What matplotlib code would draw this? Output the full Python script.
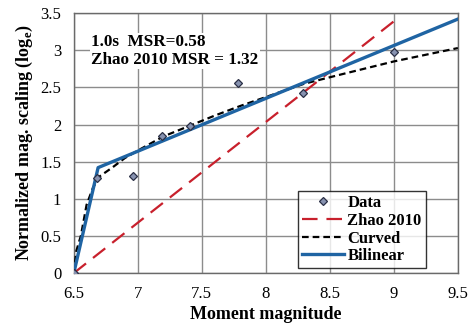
import numpy as np
import matplotlib.pyplot as plt

plt.rcParams['font.family'] = ['Liberation Serif', 'DejaVu Serif']
plt.rcParams['mathtext.fontset'] = 'custom'
plt.rcParams['mathtext.bf'] = 'Liberation Serif:bold'
plt.rcParams['mathtext.rm'] = 'Liberation Serif'

# observed scaling points
data_mw = [6.5, 6.68, 6.96, 7.19, 7.41, 7.78, 8.29, 9.0]
data_val = [0.0, 1.28, 1.31, 1.84, 1.98, 2.56, 2.42, 2.98]

# Zhao 2010 model
zhao_mw = [6.5, 9.0]
zhao_val = [0.0, 3.39]

# curved fit
curved_mw = [6.5, 6.52, 6.555, 6.6, 6.65, 6.7, 6.8, 6.9, 7.0, 7.2, 7.4, 7.6,
             7.8, 8.0, 8.3, 8.6, 9.0, 9.5]
curved_val = [0.0, 0.3, 0.5, 0.92, 1.15, 1.3, 1.42, 1.55, 1.65, 1.84, 1.98,
              2.12, 2.25, 2.37, 2.55, 2.68, 2.85, 3.03]

# bilinear fit
bilin_mw = [6.5, 6.69, 9.5]
bilin_val = [0.0, 1.42, 3.42]

fig = plt.figure(figsize=(4.73, 3.29), dpi=100)
ax = fig.add_axes([0.156, 0.170, 0.812, 0.790])

ax.plot(zhao_mw, zhao_val, color='#c8202c', lw=1.6, dashes=(7, 4), label='Zhao 2010', zorder=3)
ax.plot(curved_mw, curved_val, color='black', lw=1.6, dashes=(3, 1.8), label='Curved', zorder=4)
ax.plot(bilin_mw, bilin_val, color='#1f64a3', lw=2.4, label='Bilinear', zorder=4)
ax.plot(data_mw, data_val, ls='none', marker='D', ms=4.5, mfc='#8792b0',
        mec='#2a2f45', mew=0.9, label='Data', zorder=5)

ax.set_xlim(6.5, 9.5)
ax.set_ylim(0, 3.5)
ax.set_xticks(np.arange(6.5, 9.51, 0.5))
ax.set_yticks(np.arange(0, 3.51, 0.5))
ax.set_xticklabels(['6.5', '7', '7.5', '8', '8.5', '9', '9.5'])
ax.set_yticklabels(['0', '0.5', '1', '1.5', '2', '2.5', '3', '3.5'])
ax.tick_params(length=0, labelsize=12)
ax.tick_params(axis='x', pad=9)
ax.tick_params(axis='y', pad=9)
ax.grid(color='#8c8c8c', lw=1.0)
ax.set_axisbelow(True)
for s in ax.spines.values():
    s.set_color('#6a6a6a')
    s.set_linewidth(1.0)

ax.set_xlabel('Moment magnitude', fontsize=13, fontweight='bold', labelpad=3)
ax.set_ylabel(r'Normalized mag. scaling (log$_\mathbf{e}$)', fontsize=13,
              fontweight='bold', labelpad=4)

ax.text(6.635, 3.22, '1.0s  MSR=0.58\nZhao 2010 MSR = 1.32', fontsize=12.3,
        fontweight='bold', va='top', ha='left', linespacing=1.15,
        bbox=dict(facecolor='white', edgecolor='none', pad=1), zorder=6)

handles, labels = ax.get_legend_handles_labels()
order = [3, 0, 1, 2]
leg = ax.legend([handles[i] for i in order], [labels[i] for i in order],
                loc='lower right', bbox_to_anchor=(0.925, 0.005),
                prop={'weight': 'bold', 'size': 12}, frameon=True, fancybox=False,
                handlelength=2.5, handletextpad=0.2, borderpad=0.25,
                labelspacing=0.1, borderaxespad=0.2)
leg.get_frame().set_edgecolor('black')
leg.get_frame().set_linewidth(1.0)

fig.savefig('out.png', dpi=100)
